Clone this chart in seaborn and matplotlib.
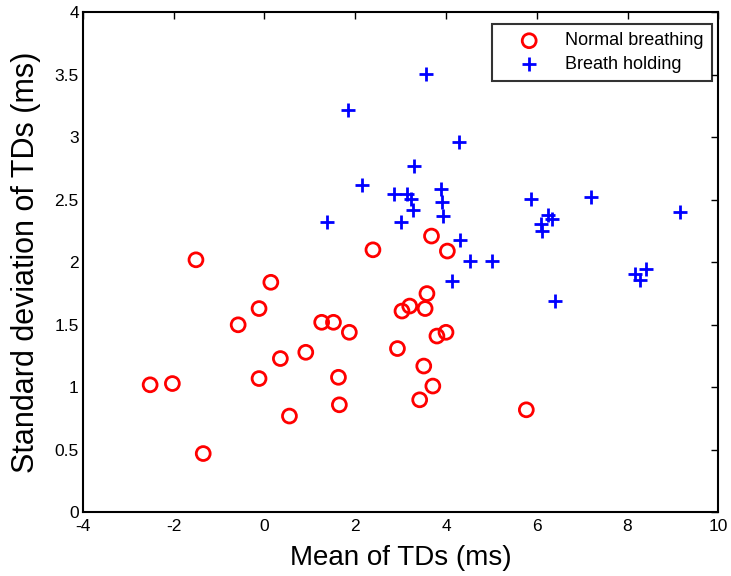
import matplotlib
matplotlib.use("Agg")
import matplotlib.pyplot as plt
import seaborn as sns
import pandas as pd

normal_x = [-1.51, 0.14, -0.12, -0.58, 1.26, 0.91, 0.35, -0.12, -2.52, -2.03, 0.55, -1.35,
            3.68, 2.39, 4.03, 3.58, 3.20, 3.03, 3.54, 1.52, 1.87, 4.00, 3.80, 2.93, 3.51,
            1.63, 3.71, 1.65, 3.42, 5.77]
normal_y = [2.02, 1.84, 1.63, 1.50, 1.52, 1.28, 1.23, 1.07, 1.02, 1.03, 0.77, 0.47,
            2.21, 2.10, 2.09, 1.75, 1.65, 1.61, 1.63, 1.52, 1.44, 1.44, 1.41, 1.31, 1.17,
            1.08, 1.01, 0.86, 0.90, 0.82]

hold_x = [1.37, 3.01, 3.28, 3.94, 3.91, 4.30, 4.53, 5.01, 4.13, 6.41, 3.55, 1.83, 4.29,
          3.30, 2.14, 2.86, 3.13, 3.23, 3.88, 5.88, 7.20, 6.25, 6.33, 6.10, 6.11, 9.16,
          8.16, 8.40, 8.27]
hold_y = [2.32, 2.32, 2.42, 2.37, 2.48, 2.18, 2.01, 2.01, 1.85, 1.69, 3.51, 3.22, 2.96,
          2.77, 2.62, 2.55, 2.55, 2.51, 2.59, 2.51, 2.52, 2.38, 2.35, 2.31, 2.25, 2.40,
          1.91, 1.95, 1.86]

labels = ["Normal breathing", "Breath holding"]
x_ticks = [-4, -2, 0, 2, 4, 6, 8, 10]
y_ticks = [0, 0.5, 1, 1.5, 2, 2.5, 3, 3.5, 4]

df_n = pd.DataFrame({"x": normal_x, "y": normal_y})
df_h = pd.DataFrame({"x": hold_x, "y": hold_y})

sns.set_style("white")
plt.rcParams["font.family"] = ["Liberation Sans", "DejaVu Sans"]
plt.rcParams["text.color"] = "black"
plt.rcParams["axes.labelcolor"] = "black"

fig = plt.figure(figsize=(7.31, 5.76), dpi=100)
ax = fig.add_axes([0.1135, 0.1106, 0.8691, 0.868])

sns.scatterplot(data=df_n, x="x", y="y", ax=ax, marker="o", s=100,
                facecolors="none", edgecolor="#ff0000", linewidth=2, label=labels[0])
sns.scatterplot(data=df_h, x="x", y="y", ax=ax, marker="+", s=110,
                color="#0000ff", linewidth=2, label=labels[1])

ax.set_xlim(-4, 10)
ax.set_ylim(0, 4)
ax.set_xticks(x_ticks)
ax.set_xticklabels([str(t) for t in x_ticks])
ax.set_yticks(y_ticks)
ax.set_yticklabels([("%g" % t) for t in y_ticks])
ax.tick_params(direction="in", length=5, width=1, top=True, right=True,
               labelsize=12.5, colors="black")
ax.tick_params(axis="x", pad=5)
ax.tick_params(axis="y", pad=3)
for sp in ax.spines.values():
    sp.set_visible(True)
    sp.set_color("black")
    sp.set_linewidth(1.5)

ax.set_xlabel("Mean of TDs (ms)", fontsize=20, labelpad=8, color="black")
ax.set_ylabel("Standard deviation of TDs (ms)", fontsize=22, labelpad=10, color="black")

leg = ax.legend(loc="upper right", frameon=True, fancybox=False, fontsize=13,
                edgecolor="black", borderpad=0.45, handlelength=3.2, handletextpad=0.4,
                labelspacing=0.35, bbox_to_anchor=(0.99, 0.976), borderaxespad=0,
                labelcolor="black")
leg.get_frame().set_linewidth(1.5)

fig.savefig("out.png", dpi=100)
